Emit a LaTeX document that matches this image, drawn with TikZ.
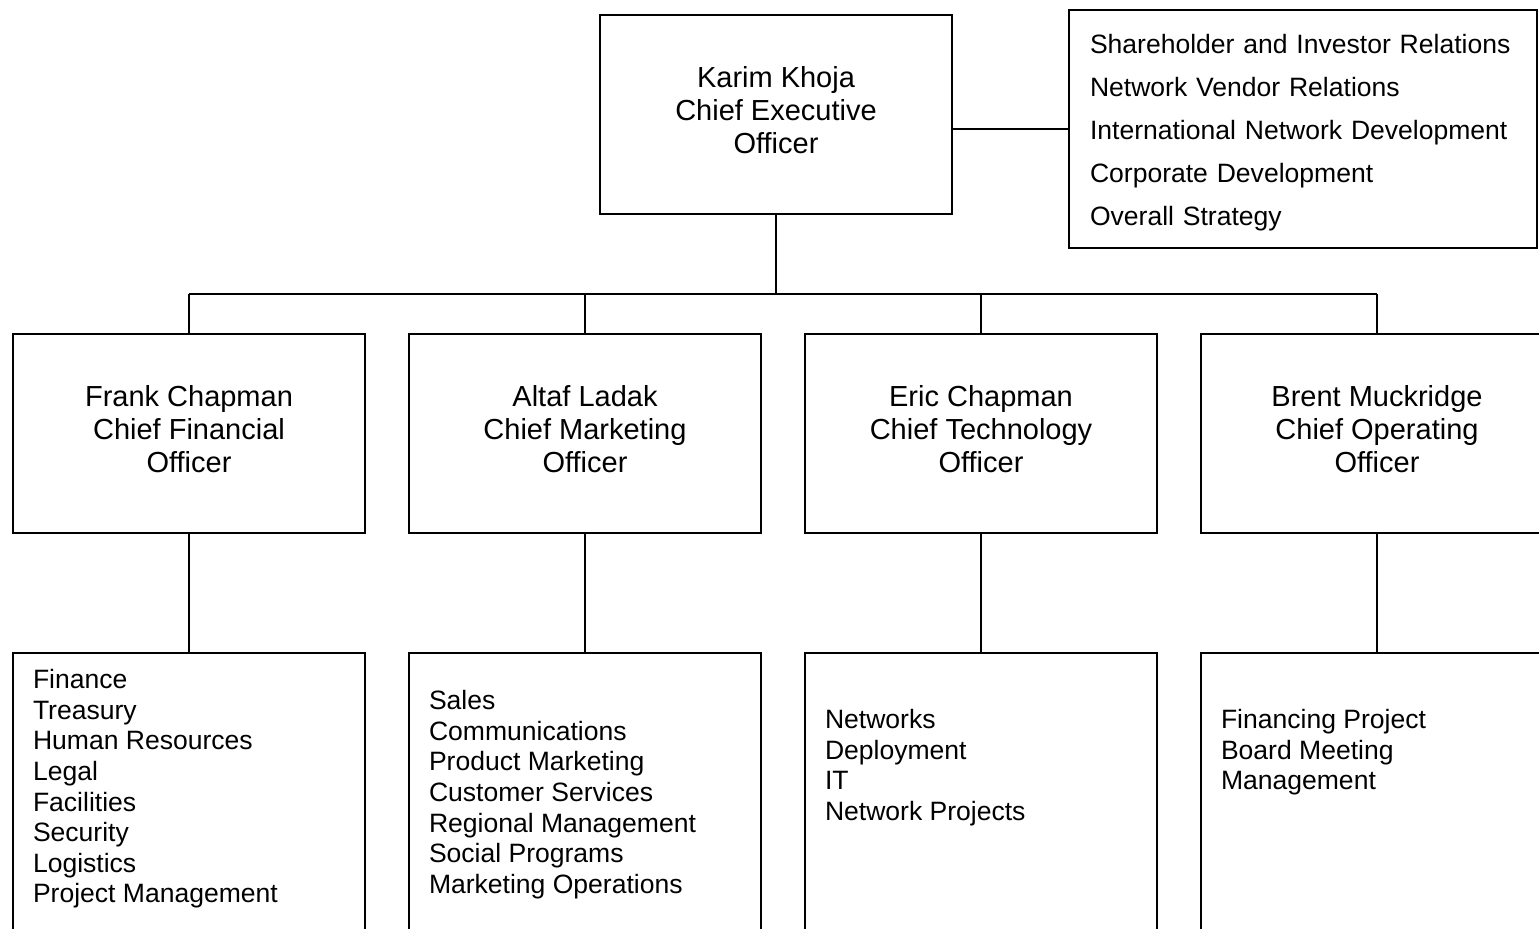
\documentclass[tikz,border=0pt]{standalone}
\usepackage{fontspec}
\setmainfont{Liberation Sans}
\usepackage{tikz}
\usetikzlibrary{positioning, calc}

\begin{document}
\begin{tikzpicture}[
        line width=1.1pt,
        every node/.style={font=\fontsize{15.1}{17.4}\selectfont},
        rolebox/.style={draw, minimum width=7.04cm, minimum height=3.98cm, align=center,
                        text depth=0.18cm, font=\fontsize{16.5}{18.8}\selectfont},
        deptbox/.style={draw, minimum width=7.04cm, minimum height=6.14cm},
        deptlist/.style={anchor=north west, inner sep=0pt, align=left},
      ]
        \useasboundingbox (0,0) rectangle (30.78,-18.56);
        \clip (0,0) rectangle (30.78,-18.56);

        \node[rolebox] (ceo) at (15.52,-2.29) {Karim Khoja\\Chief Executive\\Officer};
        \node[draw, minimum width=9.36cm, minimum height=4.76cm, text width=8.52cm,
              align=left, font=\fontsize{15.1}{24.4}\selectfont]
              (duties) at (26.06,-2.58)
              {\rule{0pt}{15pt}Shareholder and Investor Relations\\Network Vendor Relations\\
               International Network Development\\Corporate Development\\Overall Strategy};

        \node[rolebox] (cfo) at (3.78,-8.67)  {Frank Chapman\\Chief Financial\\Officer};
        \node[rolebox] (cmo) at (11.70,-8.67) {Altaf Ladak\\Chief Marketing\\Officer};
        \node[rolebox] (cto) at (19.62,-8.67) {Eric Chapman\\Chief Technology\\Officer};
        \node[rolebox] (coo) at (27.54,-8.67) {Brent Muckridge\\Chief Operating\\Officer};

        \node[deptbox] (cfodept) at (3.78,-16.13)  {};
        \node[deptbox] (cmodept) at (11.70,-16.13) {};
        \node[deptbox] (ctodept) at (19.62,-16.13) {};
        \node[deptbox] (coodept) at (27.54,-16.13) {};

        \node[deptlist] (cfolist) at ($(cfodept.north west)+(0.40,-0.33)$)
          {Finance\\Treasury\\Human Resources\\Legal\\Facilities\\Security\\Logistics\\Project Management};
        \node[deptlist] (cmolist) at ($(cmodept.north west)+(0.40,-0.75)$)
          {Sales\\Communications\\Product Marketing\\Customer Services\\Regional Management\\Social Programs\\Marketing Operations};
        \node[deptlist] (ctolist) at ($(ctodept.north west)+(0.40,-1.13)$)
          {Networks\\Deployment\\IT\\Network Projects};
        \node[deptlist] (coolist) at ($(coodept.north west)+(0.40,-1.13)$)
          {Financing Project\\Board Meeting\\Management};

        % CEO to staff functions and to the officers
        \coordinate (bus) at (15.52,-5.88);
        \draw (duties.west) -- (duties.west -| ceo.east);
        \draw (ceo.south) -- (bus);
        \draw (cfo.north |- bus) -- (coo.north |- bus);
        \draw (cfo.north) -- (cfo.north |- bus);
        \draw (cmo.north) -- (cmo.north |- bus);
        \draw (cto.north) -- (cto.north |- bus);
        \draw (coo.north) -- (coo.north |- bus);

        % officers down to their departments
        \draw (cfo.south) -- (cfodept.north);
        \draw (cmo.south) -- (cmodept.north);
        \draw (cto.south) -- (ctodept.north);
        \draw (coo.south) -- (coodept.north);
      \end{tikzpicture}
\end{document}
